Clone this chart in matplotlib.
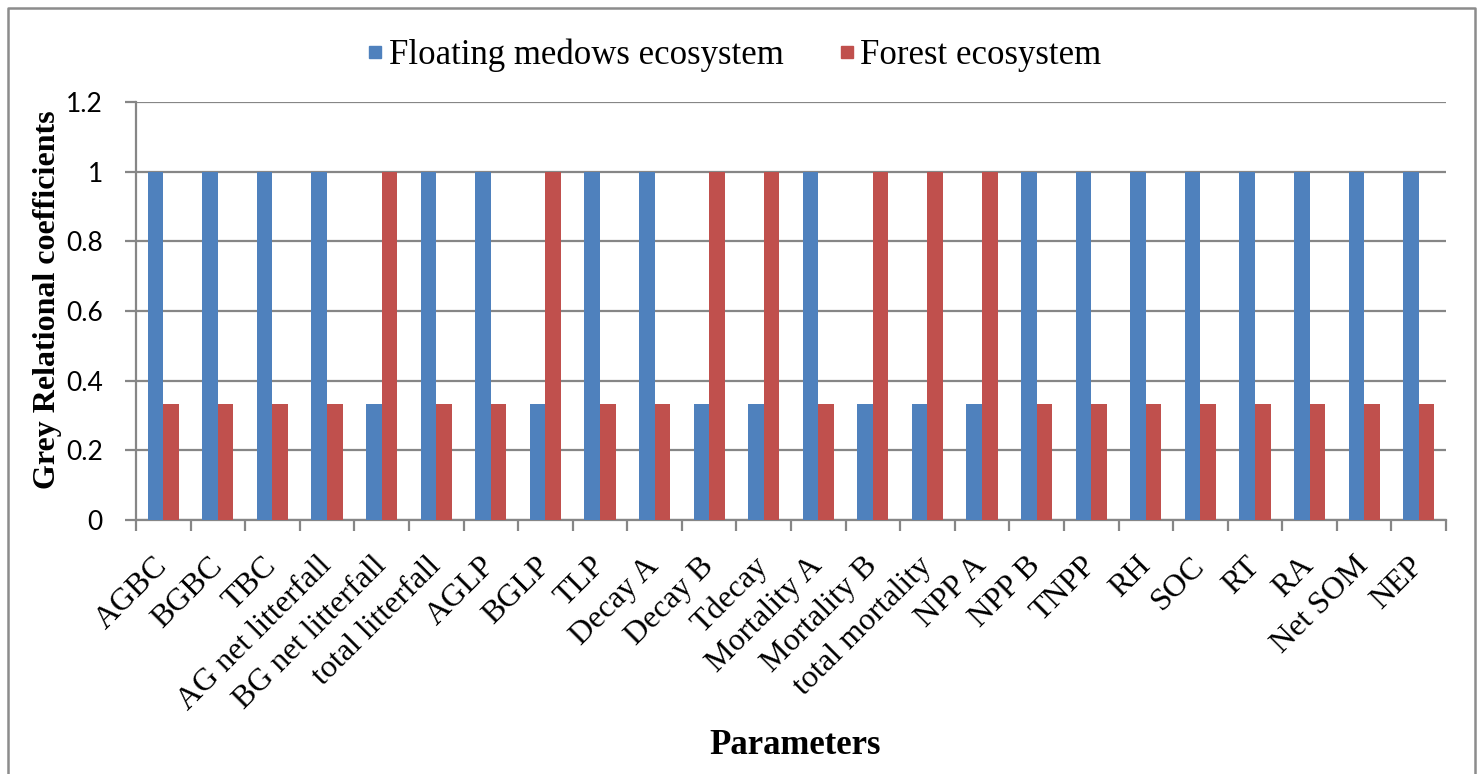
import numpy as np
import matplotlib
matplotlib.use("Agg")
import matplotlib.pyplot as plt
from matplotlib.lines import Line2D

categories = ["AGBC", "BGBC", "TBC", "AG net litterfall", "BG net litterfall",
              "total litterfall", "AGLP", "BGLP", "TLP", "Decay A", "Decay B",
              "Tdecay", "Mortality A", "Mortality B", "total mortality", "NPP A",
              "NPP B", "TNPP", "RH", "SOC", "RT", "RA", "Net SOM", "NEP"]
floating_meadows = [1, 1, 1, 1, 0.333, 1, 1, 0.333, 1, 1, 0.333, 0.333, 1, 0.333,
                    0.333, 0.333, 1, 1, 1, 1, 1, 1, 1, 1]
forest = [0.333, 0.333, 0.333, 0.333, 1, 0.333, 0.333, 1, 0.333, 0.333, 1, 1,
          0.333, 1, 1, 1, 0.333, 0.333, 0.333, 0.333, 0.333, 0.333, 0.333, 0.333]
series_names = ["Floating medows ecosystem", "Forest ecosystem"]
y_ticks = [0, 0.2, 0.4, 0.6, 0.8, 1, 1.2]
y_tick_labels = ["0", "0.2", "0.4", "0.6", "0.8", "1", "1.2"]

BLUE = "#4F81BD"
RED = "#C0504D"
GRID = "#868686"
SERIF = "Liberation Serif"
SANS = "Lato"

W, H = 1483, 774
fig = plt.figure(figsize=(W / 100, H / 100), dpi=100)

# chart border (left, top and right edges)
fx = lambda px: px / W
fy = lambda py: 1 - py / H
fig.add_artist(Line2D([fx(8), fx(8), fx(1475), fx(1475)],
                      [fy(780), fy(8), fy(8), fy(780)],
                      transform=fig.transFigure, color="#8c8c8c", linewidth=1.8))

ax = fig.add_axes([fx(136), fy(520), (1446 - 136) / W, (520 - 102) / H])

x = np.arange(len(categories))
bw = 1 / 3.5
ax.bar(x - bw / 2, floating_meadows, width=bw, color=BLUE, zorder=3)
ax.bar(x + bw / 2, forest, width=bw, color=RED, zorder=3)

ax.set_xlim(-0.5, len(categories) - 0.5)
ax.set_ylim(0, 1.2)

ax.set_yticks(y_ticks)
ax.set_yticklabels(y_tick_labels, fontfamily=SANS, fontsize=19)
ax.yaxis.grid(True, color=GRID, linewidth=1.6, zorder=0)
ax.tick_params(axis="y", length=8, width=1.6, color=GRID, pad=16)

# category ticks between groups, labels at group centres
ax.set_xticks(np.arange(len(categories) + 1) - 0.5)
ax.set_xticklabels([])
ax.tick_params(axis="x", which="major", length=8, width=1.6, color=GRID)
ax.set_xticks(x, minor=True)
ax.set_xticklabels(categories, minor=True, rotation=45, ha="right",
                   va="center", rotation_mode="anchor",
                   fontfamily=SERIF, fontsize=23)
ax.tick_params(axis="x", which="minor", length=0, pad=30)

for side in ["top", "right"]:
    ax.spines[side].set_visible(False)
for side in ["left", "bottom"]:
    ax.spines[side].set_color(GRID)
    ax.spines[side].set_linewidth(1.6)

fig.text(fx(48), fy(300), "Grey Relational coefficients", fontfamily=SERIF,
         fontweight="bold", fontsize=23, rotation=90, ha="center", va="center")
fig.text(fx(795), fy(745), "Parameters", fontfamily=SERIF,
         fontweight="bold", fontsize=25, ha="center", va="center")

handles = [Line2D([], [], marker="s", linestyle="none", markersize=8,
                  markerfacecolor=c, markeredgecolor=c) for c in (BLUE, RED)]
fig.legend(handles, series_names, loc="center", bbox_to_anchor=(fx(735), fy(55)),
           ncol=2, frameon=False, handlelength=0.4, handletextpad=0.2,
           columnspacing=1.6, prop={"family": SERIF, "size": 25})

fig.savefig("out.png", dpi=100)
